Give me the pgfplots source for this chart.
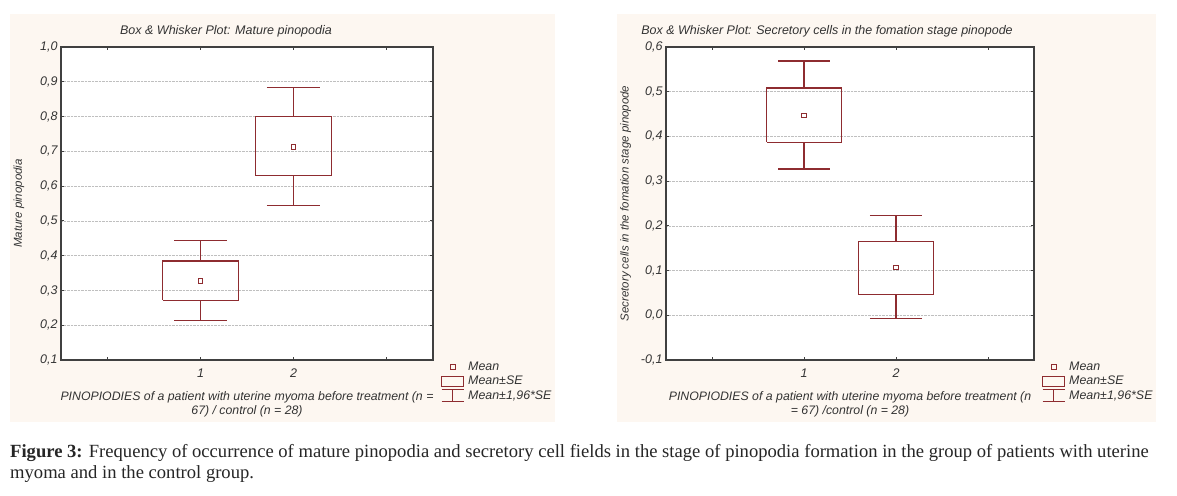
\documentclass[border=0pt]{standalone}
\usepackage{pgfplots}
\pgfplotsset{compat=1.18}
\usepackage{fontspec}
\setmainfont{Liberation Sans}
\newfontfamily\capfont{Liberation Serif}
\definecolor{boxred}{HTML}{8E2C30}
\definecolor{panel}{HTML}{FDF7F1}
\definecolor{txt}{HTML}{333333}

\pgfplotsset{
  bw/.style={
    width=372pt, height=313pt, scale only axis,
    xmin=-0.5, xmax=3.5,
    xtick={0,1,2,3}, xticklabels={,1,2,},
    tick pos=both, tick align=inside, major tick length=3pt,
    axis line style={draw=black!75, line width=1.2pt},
    tick style={black!75, line width=0.8pt},
    ymajorgrids, grid style={densely dotted, black!25, line width=0.6pt},
    axis background/.style={fill=white},
    unbounded coords=jump,
    /pgf/number format/assume math mode=true,
    yticklabel style={/pgf/number format/.cd, fixed, fixed zerofill, precision=1, use comma},
    ticklabel style={font=\itshape\fontsize{12.5}{14}\selectfont, text=txt},
    xticklabel style={yshift=-5pt},
    label style={font=\itshape\fontsize{12.3}{14}\selectfont, text=txt},
    xlabel style={align=center, yshift=-7pt},
    ylabel style={font=\itshape\fontsize{11.5}{13}\selectfont},
    title style={font=\itshape\fontsize{12.5}{14}\selectfont, text=txt, at={(0.5,1)}, anchor=south, yshift=0pt},
    legend style={at={(1,0)}, anchor=north west, xshift=5pt, yshift=1pt, draw=none, fill=none,
      font=\itshape\fontsize{12.4}{14}\selectfont, text=txt, row sep=2pt,
      nodes={inner xsep=4pt, inner ysep=1pt}},
    legend cell align=left,
  },
  meanimg/.style={legend image code/.code={\draw[boxred, line width=1pt] (8.7pt,-2.3pt) rectangle (13.3pt,2.3pt);}},
  boximg/.style={legend image code/.code={\draw[boxred, line width=1pt] (0pt,-5pt) rectangle (22pt,5pt);}},
  whiskimg/.style={legend image code/.code={\draw[boxred, line width=1pt] (0pt,6pt)--(22pt,6pt) (11pt,6pt)--(11pt,-6pt) (0pt,-6pt)--(22pt,-6pt);}},
  boxline/.style={boxred, line width=1.3pt, line join=miter, forget plot},
  meanmark/.style={boxred, line width=1pt, only marks, mark=square, mark size=2.4pt, forget plot},
}

\begin{document}
\begin{tikzpicture}
\path[use as bounding box, fill=white] (0,0) rectangle (1177pt,495pt);
\fill[panel] (10pt,73pt) rectangle (555pt,481pt);
\fill[panel] (617pt,73pt) rectangle (1156pt,481pt);

% left panel: mature pinopodia
\begin{axis}[bw, at={(61pt,135pt)}, anchor=south west,
  ymin=0.1, ymax=1.0, ytick={0.1,0.2,0.3,0.4,0.5,0.6,0.7,0.8,0.9,1.0},
  title={Box \& Whisker Plot: Mature pinopodia}, title style={xshift=-21pt},
  xlabel={PINOPIODIES of a patient with uterine myoma before treatment (n =\\67) / control (n = 28)},
  ylabel={Mature pinopodia}, ylabel style={yshift=9pt}]
% group 1: box = mean +- SE, whiskers = mean +- 1.96 SE
\addplot[boxline] coordinates {(0.595,0.272) (1.405,0.272) (1.405,0.385) (0.595,0.385) (0.595,0.272)};
\addplot[boxline] coordinates {(1,0.385) (1,0.443) (nan,nan) (0.72,0.443) (1.28,0.443)
  (nan,nan) (1,0.272) (1,0.213) (nan,nan) (0.72,0.213) (1.28,0.213)};
% group 2
\addplot[boxline] coordinates {(1.59,0.631) (2.41,0.631) (2.41,0.800) (1.59,0.800) (1.59,0.631)};
\addplot[boxline] coordinates {(2,0.800) (2,0.884) (nan,nan) (1.715,0.884) (2.285,0.884)
  (nan,nan) (2,0.631) (2,0.545) (nan,nan) (1.715,0.545) (2.285,0.545)};
\addplot[meanmark] coordinates {(1,0.327) (2,0.713)};
\addlegendimage{meanimg}\addlegendentry{Mean}
\addlegendimage{boximg}\addlegendentry{Mean±SE}
\addlegendimage{whiskimg}\addlegendentry{Mean±1,96*SE}
\end{axis}

% right panel: secretory cells
\begin{axis}[bw, width=368pt, at={(666pt,135pt)}, anchor=south west,
  ymin=-0.1, ymax=0.6, ytick={-0.1,0,0.1,0.2,0.3,0.4,0.5,0.6},
  title={Box \& Whisker Plot: Secretory cells in the fomation stage pinopode}, title style={xshift=-23pt},
  xlabel={PINOPIODIES of a patient with uterine myoma before treatment (n\\= 67) /control (n = 28)},
  ylabel={Secretory cells in the fomation stage pinopode}, ylabel style={yshift=3pt}]
\addplot[boxline] coordinates {(0.595,0.387) (1.405,0.387) (1.405,0.508) (0.595,0.508) (0.595,0.387)};
\addplot[boxline] coordinates {(1,0.508) (1,0.569) (nan,nan) (0.72,0.569) (1.28,0.569)
  (nan,nan) (1,0.387) (1,0.327) (nan,nan) (0.72,0.327) (1.28,0.327)};
\addplot[boxline] coordinates {(1.59,0.047) (2.41,0.047) (2.41,0.165) (1.59,0.165) (1.59,0.047)};
\addplot[boxline] coordinates {(2,0.165) (2,0.223) (nan,nan) (1.715,0.223) (2.285,0.223)
  (nan,nan) (2,0.047) (2,-0.007) (nan,nan) (1.715,-0.007) (2.285,-0.007)};
\addplot[meanmark] coordinates {(1,0.447) (2,0.107)};
\addlegendimage{meanimg}\addlegendentry{Mean}
\addlegendimage{boximg}\addlegendentry{Mean±SE}
\addlegendimage{whiskimg}\addlegendentry{Mean±1,96*SE}
\end{axis}

\node[anchor=north west, align=left, inner sep=0pt, text=black!85,
  font=\capfont\fontsize{18.6}{21}\selectfont] at (10pt,51pt)
  {\textbf{Figure 3:} Frequency of occurrence of mature pinopodia and secretory cell fields in the stage of pinopodia formation in the group of patients with uterine\\myoma and in the control group.};
\end{tikzpicture}
\end{document}
